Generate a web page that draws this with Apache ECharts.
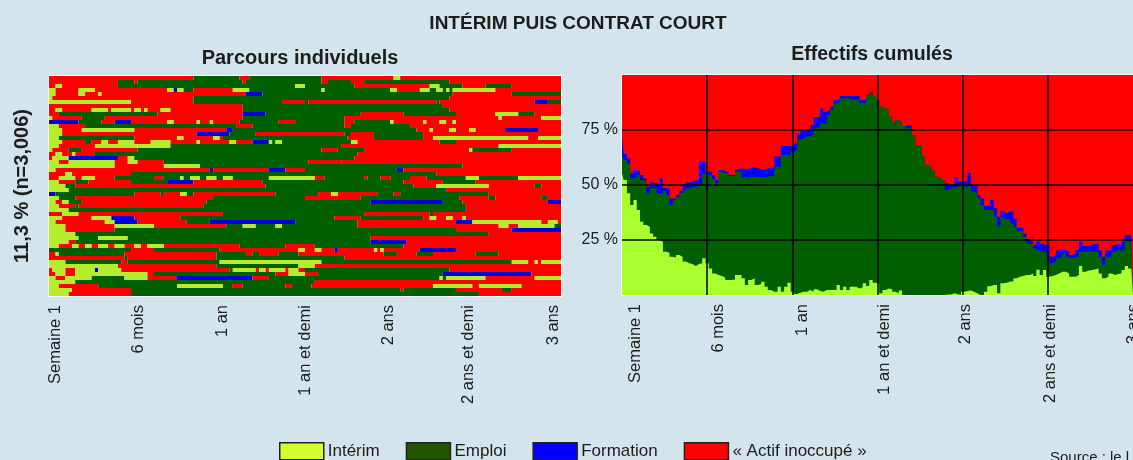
<!DOCTYPE html>
<html><head><meta charset="utf-8">
<style>html,body{margin:0;padding:0;background:#d3e4ec;overflow:hidden}#c{width:1133px;height:460px}</style>
<script src="https://cdn.jsdelivr.net/npm/echarts@6/dist/echarts.min.js"></script>
</head><body><div id="c"></div>
<script>
const tickLabels = ['Semaine 1','6 mois','1 an','1 an et demi','2 ans','2 ans et demi','3 ans'];
const leftLabelWeeks = [2,27.4,52.7,78,103.3,127.7,153.6];
const rightLabelWeeks = [4,29.4,55.2,80,105,130.8,156];
const gridWeeks = [26,52,78,104,130];
const shareTicks = [25,50,75];
const stateNames = ['Intérim','Emploi','Formation','« Actif inoccupé »'];
const stateCodes = {I:0,E:1,F:2,A:3};

// Parcours individuels: one line per person, each token = state + week at which it ends
const parcours = [
'A44 E58 A61 E83 A105 I107 A156',
'A21 E26 A27 E59 A60 E83 A85 E92 A96 E122 A156',
'A2 I4 A21 E75 I78 E93 A116 I119 E126 A133 E141 A156',
'I2 A9 I14 A36 I38 F39 I41 E44 A56 I61 E83 I84 E104 I106 A113 I116 E118 I120 E121 I122 E123 I136 A156',
'I2 A9 I11 A15 I16 A60 F65 E123 A141 E156',
'I1 A44 E122 A156',
'I25 A44 E71 A78 E79 A118 E119 A148 F152 E156',
'A59 E120 A156',
'A2 I4 A13 I18 A19 I25 A26 I28 A29 I30 A34 I37 A59 E122 A156',
'A3 E33 A59 F66 E95 A108 E124 A136 I143 E148 A156',
'I1 A10 E17 A59 E90 A137 I138 A150 I156',
'F9 E16 A20 F25 A36 I38 A45 I46 A49 I50 A58 E70 A75 E90 A93 E104 I105 A114 I115 A119 I121 A123 I124 A156',
'I3 A11 E57 A62 E90 A92 E110 A156',
'I4 A10 I26 A54 F56 E112 A116 I117 A122 I124 A128 I130 A139 F149 A156',
'I4 A45 F55 E63 A90 E92 A99 E114 A156',
'I3 E26 A39 I41 A50 I52 A53 E91 A99 E114 A117 I146 A149 I156',
'I4 A11 E13 A16 I18 A21 I26 A31 I37 A45 I46 A55 I57 A62 F67 I68 E69 I71 E92 I94 A119 E124 A156',
'I3 A14 I37 E89 A137 I156',
'I1 A6 E10 A27 E83 A88 E96 A128 I129 E141 A156',
'A2 I4 A7 I8 A14 E94 A156',
'A1 I6 F21 A24 I26 E93 A156',
'I3 A6 I20 A24 I27 A35 E79 A89 A156',
'I20 A35 I46 E126 A156',
'I2 A49 F50 A67 F72 A78 E106 F108 A156',
'A5 I7 A25 E118 A156',
'A3 I8 A10 I14 A20 E32 A35 E40 I41 E43 I46 E48 I51 E53 I56 E67 I81 A84 E96 A97 E101 A104 E110 A115 E127 I131 E143 I156',
'I3 A8 E12 A25 E36 F44 A65 E108 A120 E130 A156',
'I5 E8 A66 E111 A118 I134 A148 E150 A156',
'I6 E121 A156',
'F2 E26 A34 E35 A40 I42 E44 A69 E82 A86 I88 A100 E105 A107 E134 A156',
'I3 E8 A50 E78 A95 E125 A134 E136 A150 E152 A156',
'I2 A4 I6 E10 A48 E98 F120 E126 A152 F156',
'I3 A8 E9 A47 E127 A156',
'I6 E127 A156',
'A4 I9 A53 E96 A116 E117 A156',
'I4 A13 I19 F26 A40 E87 A95 E114 A116 I118 A121 I123 A126 I127 A156',
'I2 A17 I20 F27 A42 E49 F75 E94 A124 F129 I150 A152 I155 A156',
'I5 A20 I32 A54 E59 I63 E69 I71 E94 A137 I140 A143 I154 E156',
'I5 A20 E124 A141 F156',
'I8 E134 A156',
'I9 E15 I24 E98 A156',
'I6 A8 E98 F109 A156',
'I3 A7 I9 A11 I13 A15 I18 A20 I23 A26 I28 A30 I35 A58 E72 A81 E108 A156',
'E25 A32 E52 A76 I78 A81 I83 A87 F88 A99 I100 A101 I102 A113 F124 A156',
'A2 I3 E23 A51 E60 A62 E64 A70 E76 A102 E106 A112 E117 A130 E137 A156',
'A23 E24 A51 E90 A156',
'I5 E22 A24 E52 I83 E141 I146 A148 I149 A150 I156',
'I21 A51 E76 I81 A156',
'A1 I5 A8 I14 F15 I22 A55 E56 I63 A64 I66 A67 I72 A73 I76 A78 E122 A156',
'A2 I5 A8 I30 A32 E69 A73 I78 A82 E120 F147 A156',
'I2 A5 I13 E23 I30 A39 F62 A67 E119 I120 E121 I133 A148 I156',
'I8 E81 A156',
'I3 A15 E39 I53 E56 A59 E72 A74 E80 A117 I129 A131 I144 A156',
'I7 A25 E107 A108 E124 A138 E141 A156',
'I6 A25 E131 A156'
];

// Effectifs cumulés: cumulative top of each band, % of the population, week 0 to 156 (10 values a line)
const interimTop = [
55.3,52.3,46.2,40.9,43.2,38.6,33.3,31.8,31,28,
26.5,25,24.2,19.7,19.2,17.4,17.1,18.2,17.4,15.2,
14.4,14.1,13.2,14.1,14.4,16.7,14.4,12.1,9.8,9.1,
8.6,8,6.8,6.8,7.1,9.1,9.1,7.6,4.5,6.8,
7.6,4.5,5,6,3.8,2.3,1.5,1.5,3.8,1.5,
3.8,5.6,1.5,.5,1,1.5,1.5,2.3,1.5,2.6,
1.8,1.5,2.3,2.3,2.3,2.3,4.5,2.3,3.8,2.3,
3.8,3.8,3,3.5,5.3,4.1,6.8,5.6,5,.8,
2.3,3,2.6,1.5,.8,2,0,0,0,0,
0,0,0,0,0,0,0,0,0,.2,
.2,.8,.3,0,1.5,1.8,2,1.5,.8,0,
0,1.5,4,4.5,4.5,.8,5.3,5.6,6.1,6.1,
7.6,8.3,8.6,9.1,9.1,9.8,8.6,11.5,9.1,11.4,
8.3,8.6,9.1,9.8,10.6,10.6,9.8,8.3,8.3,9.1,
13.2,10.6,11.1,11.4,11.7,12.1,9.8,7.6,8.3,9.8,
9.1,9.5,9.8,11.4,13.2,12.1,11.4];
const emploiTop = [
64.4,61.4,59.8,53,53.5,54.5,52.3,51.5,46.2,48.5,
48.5,46.2,46.2,47.4,45.5,40.9,43.2,44.4,46.2,47.4,
48.5,48.9,49.2,49.5,50.5,55.3,54.5,54.5,52.6,50.8,
56,55.3,55.3,54.1,54.1,56,56,53.5,53.5,53.8,
53.8,53.8,53.5,53.5,53.8,54.1,54.1,58.3,58.3,63.6,
63.6,63.6,65.2,65.9,70.5,71.2,72,72.3,72.7,75.8,
76.5,78,78,81.8,84.1,87.1,87.9,89.4,89.4,89.4,
88.9,88.9,88.9,87.4,87.4,90.9,92,90.5,88.6,85.6,
84.8,84.1,81,78.3,79.5,78.8,76.8,75.8,75.8,72.7,
68.2,68.2,62.9,59.1,58.3,56.5,53.8,53,52,47.7,
48.5,48.9,49.2,50,49.2,49.2,50,47,46.2,43.9,
40.9,38.6,38.6,38.6,35.6,31,35.6,34.4,34.8,32.6,
31,29.2,29.2,26.5,23.2,23.2,21.2,20.2,19.7,19.7,
17.4,14.4,15.2,16.7,17.4,18.9,17.4,16.7,17.4,17.4,
19.7,19.7,19.7,19.7,19.7,19.7,17.4,13.6,17.4,17.4,
19.7,20.2,20.5,20.2,24.2,24.2,25];
const formationTop = [
73.2,64.1,62.1,55.3,56.8,56.1,54.5,53,49.2,51.1,
50.8,50.5,53,48.5,48.5,43.9,43.9,45.5,47.4,49.5,
51.1,51.5,52,52,60.6,60.6,56.1,56.1,54.5,52.3,
56.8,56.1,56.1,54.5,54.5,57.1,57.6,57.1,57.1,58,
58,57.6,57.1,57.1,57.6,57.6,58,62.9,62.9,67.7,
67.7,67.7,67.7,68.9,73.2,75,75.3,75.3,77.3,80.8,
80.8,84.8,83.3,84.1,85.6,88.6,88.6,90.5,90.5,90.5,
90.5,90.5,90.5,88.6,88.6,90.9,92,90.5,88.6,85.6,
84.8,84.1,81,78.3,79.5,78.8,76.8,77.3,77,72.7,
68.2,68.2,62.9,59.1,58.3,56.5,53.8,53,52,50.8,
50,50,53.5,51.5,51.5,52,55.6,50,49.5,45.5,
43.9,40.5,40.9,43.2,39.4,35.6,37.9,37.1,37.9,37.9,
34.8,30.6,30.6,28,25.3,25.8,22.7,24.2,23.2,22.7,
22.7,17.4,18.2,20.2,20.8,20.5,19.7,18.2,18.9,20.5,
24.2,22.3,22.3,22.7,23.2,23.2,20.2,17.4,20.2,20.5,
22.7,23.2,22.7,24.2,27.3,27.3,27.3];
const actifTop = [
100,100,100,100,100,100,100,100,100,100,
100,100,100,100,100,100,100,100,100,100,
100,100,100,100,100,100,100,100,100,100,
100,100,100,100,100,100,100,100,100,100,
100,100,100,100,100,100,100,100,100,100,
100,100,100,100,100,100,100,100,100,100,
100,100,100,100,100,100,100,100,100,100,
100,100,100,100,100,100,100,100,100,100,
100,100,100,100,100,100,100,100,100,100,
100,100,100,100,100,100,100,100,100,100,
100,100,100,100,100,100,100,100,100,100,
100,100,100,100,100,100,100,100,100,100,
100,100,100,100,100,100,100,100,100,100,
100,100,100,100,100,100,100,100,100,100,
100,100,100,100,100,100,100,100,100,100,
100,100,100,100,100,100,100];

const bandColors = ['#aaff2e','#006000','#0000ff','#ff0000'];
const stripColors = ['#b4ee2a','#006000','#0000d8','#ff0000'];
const legendColors = ['#d4ff2e','#225500','#0000ff','#ff0000'];
const NARROW = '"Liberation Sans Narrow","Liberation Sans",sans-serif';
const INK = '#1d1d1b';

// expand the run-length rows into segments [start,end,row,state]
const segments = [];
parcours.forEach((line,row)=>{
  let start = 0;
  line.split(' ').forEach(tok=>{
    const end = +tok.slice(1);
    segments.push([start,end,row,stateCodes[tok[0]]]);
    start = end;
  });
});

const weeks = interimTop.map((_,i)=>i);
const band = (name,values,idx)=>({
  name, type:'line', xAxisIndex:1, yAxisIndex:1, step:'middle', symbol:'none', z:1+(3-idx),
  silent:true, animation:false, clip:true,
  lineStyle:{width:0}, itemStyle:{color:bandColors[idx]},
  areaStyle:{color:bandColors[idx],opacity:1,origin:'start'},
  data:values.map((v,i)=>[weeks[i],v])
});

const xLabelStyle = (vals)=>({
  rotate:90, fontFamily:NARROW, fontSize:16.5, color:INK, margin:9, customValues:vals,
  hideOverlap:false, showMinLabel:true, showMaxLabel:true,
  formatter:v=>tickLabels[vals.indexOf(v)]
});

const chart = echarts.init(document.getElementById('c'),null,{renderer:'canvas'});
chart.setOption({
  animation:false,
  backgroundColor:'#d3e4ec',
  title:[
    {text:'INTÉRIM PUIS CONTRAT COURT',left:573,top:9,textAlign:'center',textStyle:{fontFamily:NARROW,fontSize:19,fontWeight:'bold',color:INK}},
    {text:'Parcours individuels',left:295,top:43,textAlign:'center',textStyle:{fontFamily:NARROW,fontSize:20,fontWeight:'bold',color:INK}},
    {text:'Effectifs cumulés',left:867,top:40,textAlign:'center',textStyle:{fontFamily:NARROW,fontSize:19.5,fontWeight:'bold',color:INK}},
    {text:'Source : le l',left:1045,top:445,textStyle:{fontFamily:NARROW,fontSize:15,fontWeight:'normal',color:INK}}
  ],
  legend:{
    left:274, top:437, itemWidth:44, itemHeight:17, itemGap:26, selectedMode:false, icon:'rect',
    textStyle:{fontFamily:NARROW,fontSize:17,color:INK,padding:[0,0,0,-1]},
    data:stateNames.map((n,i)=>({name:n,itemStyle:{color:legendColors[i],borderColor:'#222',borderWidth:1.5}}))
  },
  grid:[
    {left:49,top:76,width:512,height:220,outerBoundsMode:'none',show:true,backgroundColor:'#fff',borderColor:'#fff',borderWidth:2},
    {left:622,top:75,width:511,height:220,outerBoundsMode:'none',show:true,backgroundColor:'#fff',borderColor:'#fff',borderWidth:2}
  ],
  xAxis:[
    {type:'value',gridIndex:0,min:0,max:156,splitLine:{show:false},axisLine:{show:false},axisTick:{show:false},axisLabel:xLabelStyle(leftLabelWeeks)},
    {type:'value',gridIndex:1,min:0,max:156,z:20,axisLine:{show:false},axisTick:{show:false,customValues:gridWeeks},
     splitLine:{show:true,lineStyle:{color:'#000',width:1.5}},axisLabel:xLabelStyle(rightLabelWeeks)}
  ],
  yAxis:[
    {type:'value',gridIndex:0,min:0,max:55,inverse:true,splitLine:{show:false},axisLine:{show:false},axisTick:{show:false},axisLabel:{show:false},
     name:'11,3 % (n=3,006)',nameLocation:'middle',nameRotate:90,nameGap:17,
     nameTextStyle:{fontFamily:'"Liberation Sans",sans-serif',fontSize:20,fontWeight:'bold',color:INK}},
    {type:'value',gridIndex:1,min:0,max:100,z:20,axisLine:{show:false},axisTick:{show:false,customValues:shareTicks},
     splitLine:{show:true,lineStyle:{color:'#000',width:1.5}},
     axisLabel:{customValues:shareTicks,formatter:v=>v+' %',fontFamily:NARROW,fontSize:16,color:INK,margin:4}}
  ],
  series:[
    {type:'custom',name:'Parcours individuels',xAxisIndex:0,yAxisIndex:0,silent:true,clip:true,animation:false,data:segments,
     encode:{x:[0,1],y:2},
     renderItem:(p,api)=>{
       const a=api.coord([api.value(0),api.value(2)]), b=api.coord([api.value(1),api.value(2)+1]);
       return {type:'rect',shape:{x:a[0],y:a[1],width:b[0]-a[0],height:b[1]-a[1]},style:{fill:stripColors[api.value(3)]}};
     }},
    band(stateNames[3],actifTop,3),
    band(stateNames[2],formationTop,2),
    band(stateNames[1],emploiTop,1),
    band(stateNames[0],interimTop,0)
  ]
});
</script></body></html>
